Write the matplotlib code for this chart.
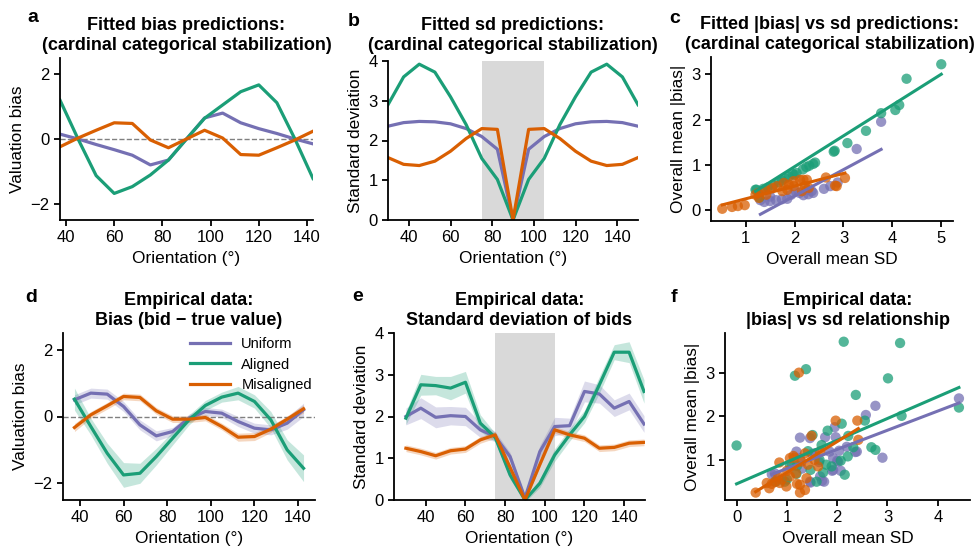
import numpy as np
import matplotlib
matplotlib.use("Agg")
import matplotlib.pyplot as plt

plt.rcParams['font.family'] = ['Liberation Sans', 'DejaVu Sans']
plt.rcParams['axes.linewidth'] = 1.3
plt.rcParams['xtick.major.width'] = 1.3
plt.rcParams['ytick.major.width'] = 1.3
plt.rcParams['xtick.labelsize'] = 12
plt.rcParams['ytick.labelsize'] = 12
plt.rcParams['axes.labelsize'] = 12.4

# ---- data ----
groups = ["Uniform", "Aligned", "Misaligned"]
colors = {"Uniform": "#7570b3", "Aligned": "#1b9e77", "Misaligned": "#d95f02"}

# panel a: fitted bias
ori_a = [37.5, 45, 52.5, 60, 67.5, 75, 82.5, 90, 97.5, 105, 112.5, 120, 127.5, 135, 142.5]
bias_fit_uniform = [0.15, 0.0, -0.17, -0.33, -0.5, -0.8, -0.65, 0.0, 0.65, 0.8, 0.5, 0.32, 0.17, 0.0, -0.15]
bias_fit_aligned = [1.2, 0.0, -1.13, -1.68, -1.47, -1.11, -0.65, 0.0, 0.64, 1.05, 1.46, 1.67, 1.12, 0.0, -1.22]
bias_fit_misaligned = [-0.24, 0.03, 0.27, 0.5, 0.48, -0.03, -0.27, 0.0, 0.27, 0.03, -0.48, -0.5, -0.27, -0.03, 0.24]

# panel b: fitted sd
ori_b = [30, 37.5, 45, 52.5, 60, 67.5, 75, 82.5, 90, 97.5, 105, 112.5, 120, 127.5, 135, 142.5, 150]
sd_fit_uniform = [2.36, 2.45, 2.48, 2.47, 2.42, 2.3, 2.1, 1.78, 0.0, 1.78, 2.1, 2.3, 2.42, 2.47, 2.48, 2.45, 2.36]
sd_fit_aligned = [2.9, 3.6, 3.92, 3.72, 3.1, 2.4, 1.55, 1.02, 0.0, 1.02, 1.55, 2.4, 3.1, 3.72, 3.92, 3.6, 2.9]
sd_fit_misaligned = [1.57, 1.4, 1.37, 1.48, 1.73, 2.05, 2.3, 2.28, 0.0, 2.28, 2.3, 2.05, 1.73, 1.48, 1.37, 1.4, 1.57]

# panel c: fitted |bias| vs sd (per participant)
c_uniform_sd = [3.77, 3.27, 2.88, 2.73, 2.6, 2.38, 2.28, 2.18, 2.1, 2.02, 1.93, 1.85, 1.74, 1.62, 1.5, 1.38, 1.3, 1.5, 2.25, 2.35]
c_uniform_bias = [1.95, 1.35, 0.61, 0.53, 0.47, 0.38, 0.35, 0.33, 0.38, 0.42, 0.34, 0.25, 0.24, 0.22, 0.2, 0.18, 0.22, 0.3, 0.45, 0.42]
c_aligned_sd = [5.0, 4.29, 4.14, 4.06, 3.77, 3.46, 3.08, 2.82, 2.42, 2.38, 2.3, 2.24, 2.17, 2.04, 1.96, 1.88,
                1.8, 1.74, 1.68, 1.56, 1.45, 1.36, 1.22, 1.28, 2.0, 2.8, 1.2]
c_aligned_bias = [3.22, 2.9, 2.32, 2.21, 2.14, 1.75, 1.48, 1.31, 1.05, 1.02, 0.98, 0.95, 0.9, 0.82, 0.8, 0.74,
                  0.7, 0.65, 0.62, 0.55, 0.5, 0.47, 0.45, 0.28, 0.78, 1.29, 0.45]
c_misaligned_sd = [0.52, 0.72, 0.84, 0.98, 1.2, 1.26, 1.4, 1.54, 1.64, 1.78, 1.88, 1.98, 1.98, 2.18, 2.25, 2.21,
                   2.29, 2.15, 1.27, 1.42, 1.75, 1.85, 2.64, 3.03, 2.86, 2.11, 2.83]
c_misaligned_bias = [0.03, 0.07, 0.09, 0.11, 0.34, 0.38, 0.45, 0.49, 0.53, 0.6, 0.56, 0.64, 0.53, 0.67, 0.67, 0.53,
                     0.49, 0.42, 0.27, 0.34, 0.42, 0.45, 0.72, 0.71, 0.53, 0.67, 0.54]
# regression fits (slope, intercept)
c_fit = {"Uniform": (0.58, -0.846), "Aligned": (0.68, -0.40), "Misaligned": (0.28, -0.03)}

# panel d: empirical bias (mean, sem)
ori_d = [37.5, 45, 52.5, 60, 67.5, 75, 82.5, 90, 97.5, 105, 112.5, 120, 127.5, 135, 142.5]
bias_uniform = [0.5, 0.7, 0.67, 0.3, -0.25, -0.58, -0.45, -0.05, 0.15, 0.1, -0.15, -0.35, -0.4, -0.2, 0.2]
bias_uniform_err = [0.15, 0.15, 0.15, 0.15, 0.15, 0.15, 0.12, 0.12, 0.12, 0.12, 0.15, 0.15, 0.15, 0.18, 0.2]
bias_aligned = [0.52, -0.3, -1.1, -1.75, -1.7, -1.2, -0.65, -0.1, 0.33, 0.58, 0.7, 0.45, -0.1, -1.0, -1.55]
bias_aligned_err = [0.33, 0.25, 0.3, 0.37, 0.3, 0.25, 0.2, 0.15, 0.15, 0.15, 0.2, 0.2, 0.25, 0.3, 0.4]
bias_misaligned = [-0.33, 0.05, 0.32, 0.6, 0.57, 0.17, -0.08, -0.08, -0.03, -0.3, -0.62, -0.6, -0.38, -0.08, 0.23]
bias_misaligned_err = [0.12, 0.1, 0.1, 0.1, 0.1, 0.1, 0.1, 0.1, 0.1, 0.1, 0.12, 0.12, 0.1, 0.1, 0.12]

# panel e: empirical sd (mean, sem)
ori_e = [30, 37.5, 45, 52.5, 60, 67.5, 75, 82.5, 90, 97.5, 105, 112.5, 120, 127.5, 135, 142.5, 150]
sd_uniform = [2.0, 2.2, 1.98, 2.02, 2.0, 1.68, 1.52, 1.04, 0.05, 1.16, 1.76, 1.78, 2.6, 2.54, 2.2, 2.36, 1.82]
sd_uniform_err = [0.2, 0.25, 0.25, 0.22, 0.22, 0.18, 0.12, 0.1, 0.05, 0.15, 0.22, 0.18, 0.25, 0.22, 0.2, 0.2, 0.2]
sd_aligned = [1.96, 2.76, 2.74, 2.68, 2.82, 1.84, 1.5, 0.6, 0.0, 0.4, 1.08, 1.56, 2.0, 2.76, 3.54, 3.54, 2.6]
sd_aligned_err = [0.15, 0.25, 0.22, 0.28, 0.26, 0.2, 0.1, 0.1, 0.05, 0.1, 0.15, 0.15, 0.15, 0.2, 0.18, 0.25, 0.28]
sd_misaligned = [1.24, 1.16, 1.06, 1.18, 1.22, 1.44, 1.56, 0.78, 0.0, 0.85, 1.68, 1.56, 1.48, 1.24, 1.26, 1.36, 1.38]
sd_misaligned_err = [0.08, 0.08, 0.08, 0.08, 0.08, 0.08, 0.08, 0.06, 0.03, 0.06, 0.08, 0.08, 0.08, 0.08, 0.08, 0.08, 0.08]

# panel f: empirical |bias| vs sd (per participant)
f_uniform_sd = [1.26, 1.46, 1.76, 1.97, 1.95, 2.04, 1.85, 1.56, 1.26, 1.19, 0.76, 1.92, 2.02, 1.92, 1.66, 1.46, 1.74,
                2.19, 2.76, 2.57, 4.42, 2.39, 2.9, 2.36, 2.0, 0.7, 1.5, 1.64, 1.7, 1.47, 1.9, 2.07, 1.1, 1.3]
f_uniform_bias = [1.51, 1.5, 1.52, 1.52, 1.75, 1.21, 1.19, 1.15, 1.04, 1.19, 0.69, 1.04, 0.96, 0.77, 0.62, 0.5, 0.5,
                  1.3, 2.24, 2.03, 2.41, 1.19, 1.05, 1.18, 0.98, 0.67, 1.14, 0.95, 0.52, 0.48, 0.75, 0.75, 0.9, 0.8]
f_aligned_sd = [2.13, 3.25, 1.38, 1.16, 3.01, 2.37, 3.28, 4.42, 2.55, 2.09, 1.81, 1.51, 2.22, 0.0, 1.69, 2.68, 2.76,
                2.32, 2.21, 2.07, 1.89, 1.78, 1.72, 1.59, 1.47, 1.19, 1.06, 0.96, 0.78, 2.15, 1.2, 1.42, 1.65, 1.0]
f_aligned_bias = [3.71, 3.68, 3.08, 2.93, 2.87, 2.49, 2.01, 2.2, 1.9, 1.83, 1.67, 1.57, 1.55, 1.33, 1.34, 1.29, 1.23,
                  1.29, 1.08, 0.98, 0.85, 0.89, 0.71, 0.5, 0.77, 0.68, 0.89, 0.5, 0.5, 0.66, 0.86, 1.2, 1.0, 0.55]
f_misaligned_sd = [1.24, 1.97, 2.4, 1.49, 2.42, 0.85, 1.13, 1.06, 1.36, 1.66, 1.62, 1.42, 1.29, 1.18, 1.06, 0.83,
                   0.76, 0.86, 0.6, 0.65, 0.38, 1.26, 1.39, 1.36, 1.26, 0.99, 0.9, 1.0, 1.15, 1.55, 1.2, 0.7]
f_misaligned_bias = [3.0, 1.9, 1.9, 1.55, 1.46, 0.94, 1.09, 1.04, 1.15, 1.19, 0.85, 0.89, 0.96, 0.69, 0.62, 0.62,
                     0.5, 0.47, 0.47, 0.35, 0.25, 0.43, 0.58, 0.31, 0.25, 0.39, 0.55, 0.75, 1.05, 1.0, 0.45, 0.45]
f_fit = {"Uniform": (0.44, 0.36), "Aligned": (0.50, 0.45), "Misaligned": (0.71, 0.0)}

# ---- figure ----
W, H = 976, 547
fig = plt.figure(figsize=(W / 100, H / 100), dpi=100)


def axes_px(l, t, r, b):
    return fig.add_axes([l / W, 1 - b / H, (r - l) / W, (b - t) / H])


def style(ax):
    ax.spines['top'].set_visible(False)
    ax.spines['right'].set_visible(False)
    ax.tick_params(length=4)


lw = 2.3
title_kw = dict(fontsize=13, fontweight='bold', linespacing=1.2)

ax_a = axes_px(60, 58, 313, 220)
ax_b = axes_px(388, 61, 638, 220)
ax_c = axes_px(711, 57, 953, 221)
ax_d = axes_px(63, 333, 315, 500)
ax_e = axes_px(394, 333, 645, 500)
ax_f = axes_px(725, 333, 970, 500)

# a
ax = ax_a
ax.axhline(0, color='grey', ls='--', lw=1)
ax.plot(ori_a, bias_fit_uniform, color=colors["Uniform"], lw=lw)
ax.plot(ori_a, bias_fit_aligned, color=colors["Aligned"], lw=lw)
ax.plot(ori_a, bias_fit_misaligned, color=colors["Misaligned"], lw=lw)
ax.set_xlim(37.5, 142.5)
ax.set_ylim(-2.5, 2.5)
ax.set_xticks([40, 60, 80, 100, 120, 140])
ax.set_yticks([-2, 0, 2])
ax.set_xlabel("Orientation (°)")
ax.set_ylabel("Valuation bias")
ax.set_title("Fitted bias predictions:\n(cardinal categorical stabilization)", pad=6, **title_kw)
style(ax)

# b
ax = ax_b
ax.axvspan(75, 105, color='#d9d9d9', lw=0)
ax.plot(ori_b, sd_fit_uniform, color=colors["Uniform"], lw=lw)
ax.plot(ori_b, sd_fit_aligned, color=colors["Aligned"], lw=lw)
ax.plot(ori_b, sd_fit_misaligned, color=colors["Misaligned"], lw=lw)
ax.set_xlim(30, 150)
ax.set_ylim(0, 4)
ax.set_xticks([40, 60, 80, 100, 120, 140])
ax.set_yticks([0, 1, 2, 3, 4])
ax.set_xlabel("Orientation (°)")
ax.set_ylabel("Standard deviation")
ax.set_title("Fitted sd predictions:\n(cardinal categorical stabilization)", pad=8, **title_kw)
style(ax)

# c
ax = ax_c
c_pts = {"Uniform": (c_uniform_sd, c_uniform_bias),
         "Aligned": (c_aligned_sd, c_aligned_bias),
         "Misaligned": (c_misaligned_sd, c_misaligned_bias)}
for g in groups:
    xs, ys = c_pts[g]
    ax.scatter(xs, ys, s=55, color=colors[g], alpha=0.75, edgecolors='none', clip_on=False)
for g in groups:
    xs, ys = c_pts[g]
    k, b0 = c_fit[g]
    xx = np.array([min(xs), max(xs)])
    ax.plot(xx, k * xx + b0, color=colors[g], lw=2.2)
ax.set_xlim(0.29, 5.24)
ax.set_ylim(-0.24, 3.38)
ax.set_xticks([1, 2, 3, 4, 5])
ax.set_yticks([0, 1, 2, 3])
ax.set_xlabel("Overall mean SD")
ax.set_ylabel("Overall mean |bias|")
ax.set_title("Fitted |bias| vs sd predictions:\n(cardinal categorical stabilization)", pad=6,
             x=0.49, **title_kw)
style(ax)

# d
ax = ax_d
ax.axhline(0, color='grey', ls='--', lw=1)
d_series = [("Uniform", bias_uniform, bias_uniform_err),
            ("Aligned", bias_aligned, bias_aligned_err),
            ("Misaligned", bias_misaligned, bias_misaligned_err)]
for g, m, e in d_series:
    m = np.array(m)
    e = np.array(e)
    ax.fill_between(ori_d, m - e, m + e, color=colors[g], alpha=0.25, lw=0)
    ax.plot(ori_d, m, color=colors[g], lw=lw, label=g)
ax.set_xlim(32.25, 147.75)
ax.set_ylim(-2.5, 2.5)
ax.set_xticks([40, 60, 80, 100, 120, 140])
ax.set_yticks([-2, 0, 2])
ax.set_xlabel("Orientation (°)")
ax.set_ylabel("Valuation bias")
ax.set_title("Empirical data:\nBias (bid − true value)", pad=6, **title_kw)
ax.legend(loc='upper right', bbox_to_anchor=(1.04, 1.055), frameon=False, fontsize=10.5,
          handlelength=2.7, labelspacing=0.45)
style(ax)

# e
ax = ax_e
ax.axvspan(75, 105, color='#d9d9d9', lw=0)
e_series = [("Uniform", sd_uniform, sd_uniform_err),
            ("Aligned", sd_aligned, sd_aligned_err),
            ("Misaligned", sd_misaligned, sd_misaligned_err)]
for g, m, e in e_series:
    m = np.array(m)
    e = np.array(e)
    ax.fill_between(ori_e, m - e, m + e, color=colors[g], alpha=0.25, lw=0)
    ax.plot(ori_e, m, color=colors[g], lw=lw)
ax.set_xlim(24, 150.5)
ax.set_ylim(0, 4)
ax.set_xticks([40, 60, 80, 100, 120, 140])
ax.set_yticks([0, 1, 2, 3, 4])
ax.set_xlabel("Orientation (°)")
ax.set_ylabel("Standard deviation")
ax.set_title("Empirical data:\nStandard deviation of bids", pad=6, **title_kw)
style(ax)

# f
ax = ax_f
f_pts = {"Uniform": (f_uniform_sd, f_uniform_bias),
         "Aligned": (f_aligned_sd, f_aligned_bias),
         "Misaligned": (f_misaligned_sd, f_misaligned_bias)}
for g in groups:
    xs, ys = f_pts[g]
    ax.scatter(xs, ys, s=55, color=colors[g], alpha=0.75, edgecolors='none', clip_on=False)
for g in groups:
    xs, ys = f_pts[g]
    k, b0 = f_fit[g]
    xx = np.array([min(xs), max(xs)])
    ax.plot(xx, k * xx + b0, color=colors[g], lw=2.2)
ax.set_xlim(-0.23, 4.64)
ax.set_ylim(0.08, 3.91)
ax.set_xticks([0, 1, 2, 3, 4])
ax.set_yticks([1, 2, 3])
ax.set_xlabel("Overall mean SD")
ax.set_ylabel("Overall mean |bias|")
ax.set_title("Empirical data:\n|bias| vs sd relationship", pad=6, **title_kw)
style(ax)

# panel letters
for lab, x, y in [("a", 27, 22), ("b", 348, 26), ("c", 669, 23),
                  ("d", 25, 302), ("e", 352, 301), ("f", 671, 302)]:
    fig.text(x / W, 1 - y / H, lab, fontsize=14, fontweight='bold', va='baseline')

fig.savefig("out.png", dpi=100)
